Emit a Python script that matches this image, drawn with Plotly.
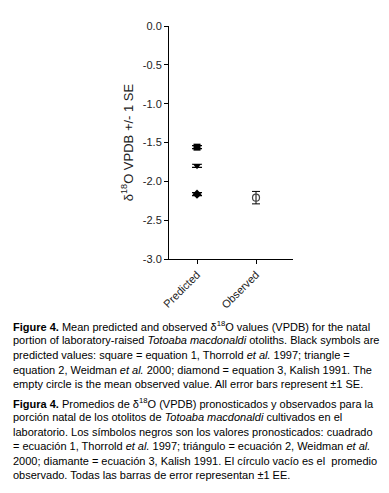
import plotly.graph_objects as go

# ---- data ----
categories = ["Predicted", "Observed"]
pred_labels = ["square (eq. 1)", "triangle (eq. 2)", "diamond (eq. 3)"]
pred_values = [-1.56, -1.80, -2.165]
pred_se = [0.02, 0.02, 0.02]
obs_value = [-2.21]
obs_se = [0.08]
y_tickvals = [0.0, -0.5, -1.0, -1.5, -2.0, -2.5, -3.0]
y_ticktext = ["0.0", "-0.5", "-1.0", "-1.5", "-2.0", "-2.5", "-3.0"]

caption_en = [
    "<b>Figure 4.</b> Mean predicted and observed δ<sup>18</sup>O values (VPDB) for the natal",
    "portion of laboratory-raised <i>Totoaba macdonaldi</i> otoliths. Black symbols are",
    "predicted values: square = equation 1, Thorrold <i>et al.</i> 1997; triangle =",
    "equation 2, Weidman <i>et al.</i> 2000; diamond = equation 3, Kalish 1991. The",
    "empty circle is the mean observed value. All error bars represent ±1 SE.",
]
caption_es = [
    "<b>Figura 4.</b> Promedios de δ<sup>18</sup>O (VPDB) pronosticados y observados para la",
    "porción natal de los otolitos de <i>Totoaba macdonaldi</i> cultivados en el",
    "laboratorio. Los símbolos negros son los valores pronosticados: cuadrado",
    "= ecuación 1, Thorrold <i>et al.</i> 1997; triángulo = ecuación 2, Weidman <i>et al.</i>",
    "2000; diamante = ecuación 3, Kalish 1991. El círculo vacío es el  promedio",
    "observado. Todas las barras de error representan ±1 EE.",
]

symbols = ["square", "triangle-down", "diamond"]
sizes = [7, 7, 7]

W, H = 389, 493
L, R, T, B = 161, 104, 14, 242
plot_h = H - T - B

fig = go.Figure()
for v, e, s, sz, name in zip(pred_values, pred_se, symbols, sizes, pred_labels):
    fig.add_trace(go.Scatter(
        x=[categories[0]], y=[v], mode="markers", name=name,
        marker=dict(symbol=s, size=sz, color="black"),
        error_y=dict(type="data", array=[e], color="black", thickness=1.2, width=5),
        showlegend=False,
    ))
fig.add_trace(go.Scatter(
    x=[categories[1]], y=obs_value, mode="markers", name="Observed",
    marker=dict(symbol="circle-open", size=7, color="#444", line=dict(width=1.2)),
    error_y=dict(type="data", array=obs_se, color="black", thickness=1, width=4),
    showlegend=False,
))

axis_font = dict(family="Liberation Sans, Arial, sans-serif", size=11, color="#222")
fig.update_xaxes(
    type="category", categoryorder="array", categoryarray=categories,
    range=[-0.475, 1.627], showline=True, linecolor="black", linewidth=1,
    ticks="outside", ticklen=4, tickcolor="black", tickangle=-45,
    tickfont=axis_font, showgrid=False, zeroline=False,
)
fig.update_yaxes(
    range=[-3.0, 0.0], tickvals=y_tickvals, ticktext=y_ticktext,
    showline=True, linecolor="black", linewidth=1,
    ticks="outside", ticklen=4, tickcolor="black",
    tickfont=axis_font, showgrid=False, zeroline=False,
    title=dict(text="δ<sup>18</sup>O VPDB +/- 1 SE",
               font=dict(family="Liberation Sans, Arial, sans-serif", size=13, color="#222"),
               standoff=6),
)

cap_font = dict(family="Liberation Sans Narrow, Arial Narrow, Liberation Sans, sans-serif",
                size=11.0, color="black")
line_h = 14.8
y0_px = 319
ann = []
lines = caption_en + caption_es
extra = 0
for i, t in enumerate(lines):
    if i == len(caption_en):
        extra += 4
    ypx = y0_px + i * line_h + extra
    ypaper = (H - B - ypx) / plot_h
    ann.append(dict(text=t, xref="paper", yref="paper",
                    x=(3 - L) / (W - L - R), y=ypaper,
                    xanchor="left", yanchor="middle", showarrow=False,
                    align="left", font=cap_font))

fig.update_layout(
    width=W, height=H, margin=dict(l=L, r=R, t=T, b=B),
    paper_bgcolor="white", plot_bgcolor="white",
    annotations=ann,
)
fig.write_html("out.html")
